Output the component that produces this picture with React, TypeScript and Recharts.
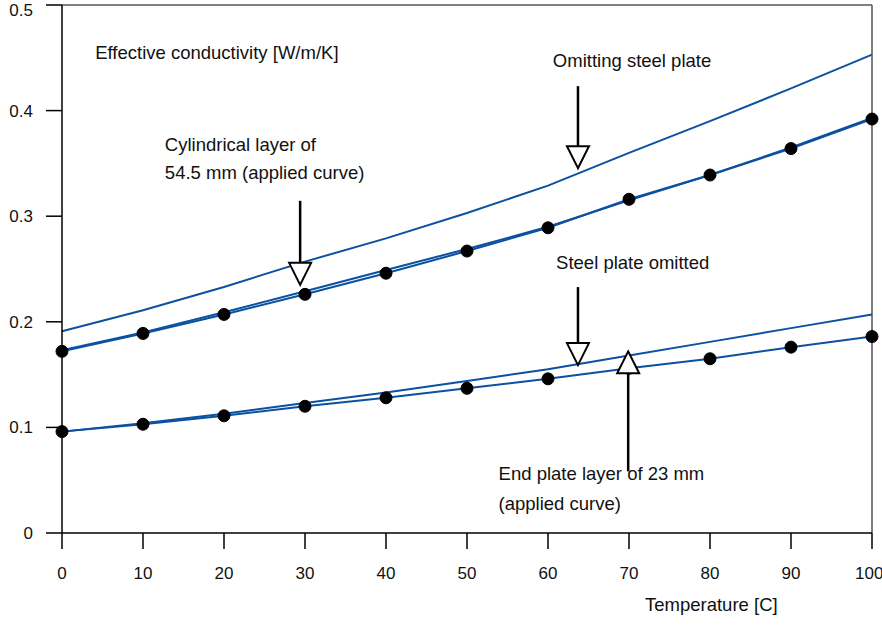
import { LineChart, Line, XAxis, YAxis, ReferenceDot, ReferenceLine } from "recharts"

// temperature [C]
const temps = [0, 10, 20, 30, 40, 50, 60, 70, 80, 90, 100]

// effective conductivity [W/m/K]
const omittingSteelPlate = [0.191, 0.211, 0.233, 0.257, 0.279, 0.303, 0.329, 0.36, 0.39, 0.421, 0.453]
const cylindricalFit = [0.173, 0.19, 0.209, 0.229, 0.249, 0.269, 0.29, 0.315, 0.339, 0.365, 0.393]
const cylindricalApplied = [0.172, 0.189, 0.207, 0.226, 0.246, 0.267, 0.289, 0.316, 0.339, 0.364, 0.392]
const steelPlateOmitted = [0.096, 0.104, 0.113, 0.123, 0.133, 0.144, 0.155, 0.168, 0.181, 0.194, 0.207]
const endPlateApplied = [0.096, 0.103, 0.111, 0.12, 0.128, 0.137, 0.146, 0.156, 0.165, 0.176, 0.186]

const xTicks = [0, 10, 20, 30, 40, 50, 60, 70, 80, 90, 100]
const yTicks = [0, 0.1, 0.2, 0.3, 0.4, 0.5]

const data = temps.map((t, i) => ({
  t,
  omit: omittingSteelPlate[i],
  cylFit: cylindricalFit[i],
  cyl: cylindricalApplied[i],
  steel: steelPlateOmitted[i],
  end: endPlateApplied[i],
}))

const BLUE = "#0b51a1"
const FONT = "'Liberation Sans', Arial, sans-serif"

// hollow-headed arrow; tip sits on (cx, cy)
const arrow = (dir: 1 | -1, shaft: number) => (p: any) => {
  const { cx, cy } = p
  const base = cy - dir * 22
  return (
    <g>
      <line x1={cx} y1={base} x2={cx} y2={base - dir * shaft} stroke="#000" strokeWidth={2.5} />
      <polygon
        points={`${cx},${cy} ${cx - 11},${base} ${cx + 11},${base}`}
        fill="#fff"
        stroke="#000"
        strokeWidth={2}
      />
    </g>
  )
}

const note = (text: string) => (p: any) => (
  <text x={p.cx} y={p.cy} dominantBaseline="central" fontSize={18.5} fontFamily={FONT} fill="#111">
    {text}
  </text>
)

export default function App() {
  return (
    <div style={{ position: "absolute", left: 0, top: 0, width: 882, height: 626, background: "#fff", fontFamily: FONT }}>
      <LineChart width={882} height={626} data={data} margin={{ top: 5, right: 10, bottom: 33, left: 0 }}>
        <XAxis
          dataKey="t"
          type="number"
          domain={[0, 100]}
          ticks={xTicks}
          tickSize={16}
          tickMargin={18}
          height={60}
          fontSize={17}
          axisLine={{ stroke: "#000", strokeWidth: 1.5 }}
          tickLine={{ stroke: "#000", strokeWidth: 1.5 }}
          tick={{ fill: "#111", fontSize: 17, fontFamily: FONT }}
        />
        <YAxis
          type="number"
          domain={[0, 0.5]}
          ticks={yTicks}
          width={62}
          tickSize={16}
          tickMargin={13}
          fontSize={17}
          axisLine={{ stroke: "#000", strokeWidth: 1.5 }}
          tickLine={{ stroke: "#000", strokeWidth: 1.5 }}
          tick={{ fill: "#111", fontSize: 17, fontFamily: FONT }}
        />
        <ReferenceLine y={0.5} stroke="#555" strokeWidth={1.5} />
        <ReferenceLine x={100} stroke="#555" strokeWidth={1.5} />

        <Line dataKey="omit" stroke={BLUE} strokeWidth={2} dot={false} isAnimationActive={false} />
        <Line dataKey="cylFit" stroke={BLUE} strokeWidth={2} dot={false} isAnimationActive={false} />
        <Line
          dataKey="cyl"
          stroke={BLUE}
          strokeWidth={2}
          dot={{ r: 6, fill: "#000", stroke: "#000", strokeWidth: 1 }}
          isAnimationActive={false}
        />
        <Line dataKey="steel" stroke={BLUE} strokeWidth={2} dot={false} isAnimationActive={false} />
        <Line
          dataKey="end"
          stroke={BLUE}
          strokeWidth={2}
          dot={{ r: 6, fill: "#000", stroke: "#000", strokeWidth: 1 }}
          isAnimationActive={false}
        />

        <ReferenceDot x={4.1} y={0.455} shape={note("Effective conductivity [W/m/K]")} />
        <ReferenceDot x={60.6} y={0.447} shape={note("Omitting steel plate")} />
        <ReferenceDot x={12.7} y={0.368} shape={note("Cylindrical layer of")} />
        <ReferenceDot x={12.7} y={0.341} shape={note("54.5 mm (applied curve)")} />
        <ReferenceDot x={61} y={0.256} shape={note("Steel plate omitted")} />
        <ReferenceDot x={53.9} y={0.056} shape={note("End plate layer of 23 mm")} />
        <ReferenceDot x={53.9} y={0.028} shape={note("(applied curve)")} />

        <ReferenceDot x={63.7} y={0.3455} shape={arrow(1, 60)} />
        <ReferenceDot x={29.4} y={0.235} shape={arrow(1, 62)} />
        <ReferenceDot x={63.7} y={0.159} shape={arrow(1, 56)} />
        <ReferenceDot x={69.9} y={0.172} shape={arrow(-1, 98)} />
      </LineChart>
      <div
        style={{
          position: "absolute",
          left: 645,
          top: 597,
          fontSize: 18.5,
          lineHeight: "16px",
          color: "#111",
          whiteSpace: "nowrap",
        }}
      >
        Temperature [C]
      </div>
    </div>
  )
}
